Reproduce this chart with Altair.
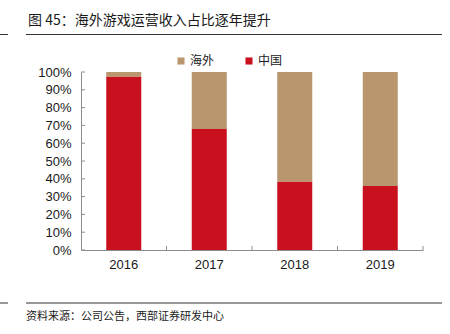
import altair as alt
import pandas as pd

years = ["2016", "2017", "2018", "2019"]
china = [97.5, 68.0, 38.5, 36.0]
overseas = [2.5, 32.0, 61.5, 64.0]
series_names = ["海外", "中国"]
series_colors = ["#B9966E", "#C8101E"]
y_ticks = [0, 10, 20, 30, 40, 50, 60, 70, 80, 90, 100]
title_text = "图 45：海外游戏运营收入占比逐年提升"
source_text = "资料来源：公司公告，西部证券研发中心"

rows = []
for y, c, o in zip(years, china, overseas):
    rows.append({"year": y, "series": "中国", "value": c, "ord": 0})
    rows.append({"year": y, "series": "海外", "value": o, "ord": 1})
df = pd.DataFrame(rows)

W, H = 342, 178
CJK = "Noto Sans CJK SC"
LAT = "Liberation Sans"

xscale = alt.Scale(domain=years, paddingInner=0, paddingOuter=0)
yscale = alt.Scale(domain=[0, 100], nice=False)

xaxis = alt.Axis(title=None, labelAngle=0, tickSize=0, domainColor="#8c8c8c",
                 labelFont=LAT, labelFontSize=13, labelColor="#1a1a1a", labelPadding=8)
yaxis = alt.Axis(title=None, values=y_ticks, labelExpr="datum.value + '%'", tickSize=0,
                 grid=False, domainColor="#8c8c8c", labelFont=LAT, labelFontSize=13,
                 labelColor="#1a1a1a", labelPadding=10, labelOverlap=False, labelFlush=False)

bars = alt.Chart(df).mark_bar(width=35).encode(
    x=alt.X("year:N", scale=xscale, sort=years, axis=xaxis),
    y=alt.Y("value:Q", stack="zero", scale=yscale, axis=yaxis),
    color=alt.Color("series:N", scale=alt.Scale(domain=series_names, range=series_colors),
                    legend=alt.Legend(title=None, orient="none", direction="horizontal",
                                      legendX=94, legendY=-17, symbolType="square", symbolSize=50,
                                      symbolStrokeWidth=0, labelFont=CJK, labelFontSize=12,
                                      labelColor="#1a1a1a", columnPadding=28, labelOffset=3,
                                      padding=0)),
    order=alt.Order("ord:Q"),
)

xticks = alt.Chart(pd.DataFrame({"year": years})).mark_rule(color="#8c8c8c").encode(
    x=alt.X("year:N", scale=xscale, sort=years, bandPosition=1, axis=xaxis),
    y=alt.value(H), y2=alt.value(H - 4),
)
yt = alt.Chart(pd.DataFrame({"value": y_ticks})).mark_rule(color="#8c8c8c").encode(
    y=alt.Y("value:Q", scale=yscale, axis=yaxis), x=alt.value(0), x2=alt.value(4),
)

one = pd.DataFrame({"a": [0]})
line_color = "#333333"
deco = [
    alt.Chart(one).mark_rule(color=line_color, strokeWidth=1).encode(
        x=alt.value(-81), x2=alt.value(-73), y=alt.value(-37.5)),
    alt.Chart(one).mark_rule(color=line_color, strokeWidth=1).encode(
        x=alt.value(-55), x2=alt.value(361), y=alt.value(-37.5)),
    alt.Chart(one).mark_rule(color=line_color, strokeWidth=1).encode(
        x=alt.value(-81), x2=alt.value(-73), y=alt.value(231)),
    alt.Chart(one).mark_rule(color=line_color, strokeWidth=1).encode(
        x=alt.value(-55), x2=alt.value(361), y=alt.value(231)),
    alt.Chart(pd.DataFrame({"t": [title_text]})).mark_text(
        align="left", baseline="middle", font=CJK, fontSize=14, color="#1a1a1a").encode(
        x=alt.value(-53), y=alt.value(-51), text="t:N"),
    alt.Chart(pd.DataFrame({"t": [source_text]})).mark_text(
        align="left", baseline="middle", font=CJK, fontSize=11, color="#1a1a1a").encode(
        x=alt.value(-55), y=alt.value(245), text="t:N"),
]

chart = alt.layer(bars, xticks, yt, *deco).properties(
    width=W, height=H,
    autosize=alt.AutoSizeParams(type="none"),
    padding={"left": 81, "top": 72, "right": 27, "bottom": 84},
    background="white",
).configure_view(stroke=None)

chart.save("out.html", embed_options={"renderer": "svg", "actions": False})
